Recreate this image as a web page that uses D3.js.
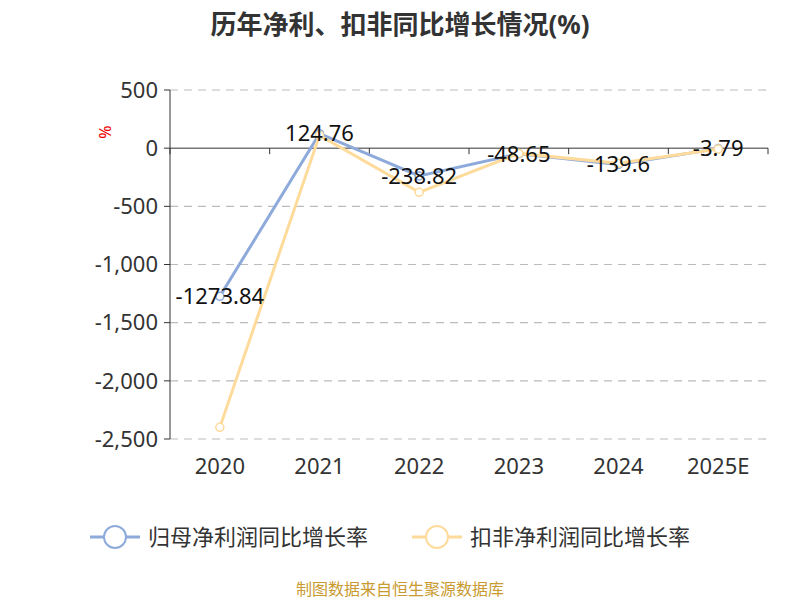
<!DOCTYPE html><html><head><meta charset="utf-8"><script src="https://cdn.jsdelivr.net/npm/d3@7"></script>
<style>body{margin:0;background:#fff}svg{font-family:"Noto Sans","Noto Sans CJK SC",sans-serif}</style></head><body><svg width="800" height="600"></svg><script>
const categories=["2020","2021","2022","2023","2024","2025E"];
const netGrowth=[-1273.84,124.76,-238.82,-48.65,-139.6,-3.79];
const deductedGrowth=[-2400,110,-380,-45,-130,-8];
const yTicks=[500,0,-500,-1000,-1500,-2000,-2500];
const svg=d3.select("svg");
const L=170,R=768,T=90,B=439;
const x=d3.scaleBand().domain(categories).range([L,R]);
const y=d3.scaleLinear().domain([-2500,500]).range([B,T]);
svg.append("text").attr("x",400).attr("y",34).attr("text-anchor","middle").attr("font-size",26).attr("font-weight","bold").attr("fill","#333").text("历年净利、扣非同比增长情况(%)");
svg.selectAll(".g").data(yTicks.filter(d=>d!==0)).join("line").attr("x1",L).attr("x2",R).attr("y1",d=>y(d)).attr("y2",d=>y(d)).attr("stroke","#bbb").attr("stroke-dasharray","8,6").attr("stroke-width",1.2);
svg.append("line").attr("x1",L).attr("x2",L).attr("y1",T).attr("y2",B).attr("stroke","#333");
svg.selectAll(".yt").data(yTicks).join("line").attr("x1",L-6).attr("x2",L).attr("y1",d=>y(d)).attr("y2",d=>y(d)).attr("stroke","#333");
svg.selectAll(".yl").data(yTicks).join("text").attr("x",L-12).attr("y",d=>y(d)).attr("dy","0.35em").attr("text-anchor","end").attr("font-size",22).attr("fill","#333").text(d=>d3.format(",")(d).replace("−","-"));
svg.append("line").attr("x1",L).attr("x2",R).attr("y1",y(0)).attr("y2",y(0)).attr("stroke","#333");
const bnd=categories.map(c=>x(c)).concat([R]);
svg.selectAll(".xt").data(bnd).join("line").attr("x1",d=>d).attr("x2",d=>d).attr("y1",y(0)).attr("y2",y(0)+6).attr("stroke","#333");
svg.selectAll(".xl").data(categories).join("text").attr("x",d=>x(d)+x.bandwidth()/2).attr("y",474).attr("text-anchor","middle").attr("font-size",22).attr("fill","#333").text(d=>d);
svg.append("text").attr("transform","translate(111,132) rotate(-90)").attr("text-anchor","middle").attr("font-size",16).attr("fill","#e00").text("%");
const cx=i=>x(categories[i])+x.bandwidth()/2;
const series=[[netGrowth,"#8eaadb"],[deductedGrowth,"#fedb9b"]];
series.forEach(([vals,c])=>{
 svg.append("path").attr("d",d3.line().x((d,i)=>cx(i)).y(d=>y(d))(vals)).attr("fill","none").attr("stroke",c).attr("stroke-width",3);
 svg.selectAll(null).data(vals).join("circle").attr("cx",(d,i)=>cx(i)).attr("cy",d=>y(d)).attr("r",4).attr("fill","#fff").attr("stroke",c).attr("stroke-width",1.5);
});
svg.selectAll(".lab").data(netGrowth).join("text").attr("x",(d,i)=>cx(i)).attr("y",d=>y(d)).attr("dy","0.35em").attr("text-anchor","middle").attr("font-size",22).attr("fill","#111").text(d=>d);
const lg=[["归母净利润同比增长率","#8eaadb",90],["扣非净利润同比增长率","#fedb9b",412]];
lg.forEach(([t,c,x0])=>{
 svg.append("line").attr("x1",x0).attr("x2",x0+50).attr("y1",537).attr("y2",537).attr("stroke",c).attr("stroke-width",3);
 svg.append("circle").attr("cx",x0+25).attr("cy",537).attr("r",11).attr("fill","#fff").attr("stroke",c).attr("stroke-width",2);
 svg.append("text").attr("x",x0+58).attr("y",537).attr("dy","0.35em").attr("font-size",22).attr("fill","#333").text(t);
});
svg.append("text").attr("x",400).attr("y",595).attr("text-anchor","middle").attr("font-size",16).attr("fill","#c89a30").text("制图数据来自恒生聚源数据库");
</script></body></html>
